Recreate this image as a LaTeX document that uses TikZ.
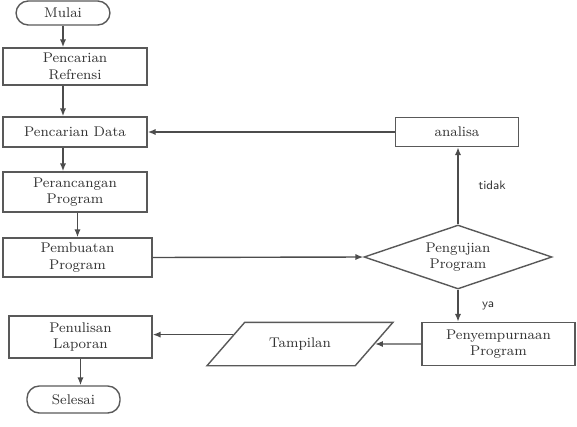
\documentclass[tikz,border=0pt]{standalone}
\usepackage{tikz}
\usetikzlibrary{arrows.meta, positioning, shapes.geometric}

\begin{document}
\begin{tikzpicture}[x=0.02cm, y=-0.02cm, >={Latex[length=4.5pt, width=3.5pt]},
        % Node Styles
        base/.style={draw=black!65, line width=0.8pt, align=center, font=\footnotesize, text=black!80, inner sep=1pt},
        proc/.style={base, rectangle},
        terminal/.style={base, rectangle, rounded corners=7pt},
        decision/.style={base, diamond, aspect=2.9, inner sep=0pt},
        io/.style={base, trapezium, trapezium left angle=49, trapezium right angle=131, trapezium stretches body, inner ysep=8.8pt},
        annot/.style={font=\scriptsize\sffamily, text=black!80},
        arrow/.style={->, line width=0.8pt, draw=black!70}
    ]
    \useasboundingbox (0,0) rectangle (577,426);

    % --- 1. Left Column ---
    \node[terminal, minimum width=1.88cm, minimum height=0.48cm] (mulai) at (63,13) {Mulai};
    \node[proc, minimum width=2.88cm, minimum height=0.74cm] (refrensi) at (75,66.5) {Pencarian\\Refrensi};
    \node[proc, minimum width=2.88cm, minimum height=0.6cm] (data) at (75,132) {Pencarian Data};
    \node[proc, minimum width=2.88cm, minimum height=0.8cm] (rancang) at (75,192) {Perancangan\\Program};
    \node[proc, minimum width=2.98cm, minimum height=0.78cm] (buat) at (77.5,257.5) {Pembuatan\\Program};
    \node[proc, minimum width=2.86cm, minimum height=0.84cm] (tulis) at (80.5,337) {Penulisan\\Laporan};
    \node[terminal, minimum width=1.86cm, minimum height=0.54cm] (selesai) at (73.5,399.5) {Selesai};

    % --- 2. Right Column ---
    \node[proc, minimum width=2.46cm, minimum height=0.58cm] (analisa) at (457,132) {analisa};
    \node[decision, minimum width=3.76cm, minimum height=1.28cm] (uji) at (458,257) {Pengujian\\Program};
    \node[proc, minimum width=3.06cm, minimum height=0.86cm] (sempurna) at (498.5,344) {Penyempurnaan\\Program};
    \node[io, minimum width=3.72cm] (tampil) at (300,344) {Tampilan};

    % --- Routing Connections ---
    \draw[arrow] (mulai.south) -- (mulai.south |- refrensi.north);
    \draw[arrow] (mulai.south |- refrensi.south) -- (mulai.south |- data.north);
    \draw[arrow] (mulai.south |- data.south) -- (mulai.south |- rancang.north);
    \draw[arrow] (buat.north |- rancang.south) -- (buat.north);
    \draw[arrow] (buat.east) -- (uji.west);

    % Test result
    \draw[arrow] (uji.north) -- node[right=8pt, annot] {tidak} (uji.north |- analisa.south);
    \draw[arrow] (analisa.west) -- (data.east);
    \draw[arrow] (uji.south) -- node[right=10pt, annot] {ya} (uji.south |- sempurna.north);

    % Output
    \draw[arrow] (sempurna.west) -- (tampil.east);
    \draw[arrow] (tampil.172) -- (tampil.172 -| tulis.east);
    \draw[arrow] (tulis.south |- tulis.south) -- (tulis.south |- selesai.north);

\end{tikzpicture}
\end{document}
